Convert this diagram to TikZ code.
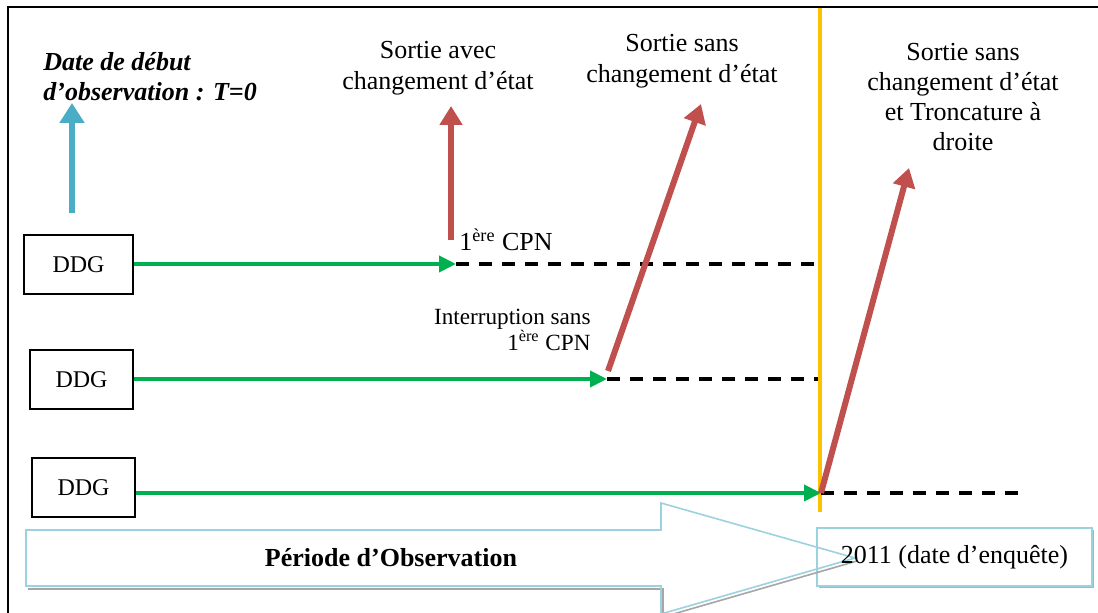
\documentclass[tikz,border=0pt]{standalone}
\usepackage{fontspec}
\setmainfont{Liberation Serif}
\usetikzlibrary{arrows.meta,positioning,calc,shadows}
\definecolor{flowgreen}{HTML}{00B050}
\definecolor{exitred}{HTML}{C0504D}
\definecolor{startblue}{HTML}{4BACC6}
\definecolor{edgeblue}{HTML}{9CD2E0}
\definecolor{limitgold}{HTML}{FFC000}
\begin{document}
\begin{tikzpicture}[x=.5pt,y=-.5pt,
  ddgbox/.style={draw,line width=1pt,minimum width=51.5pt,minimum height=29.5pt,inner sep=0,font=\fontsize{12}{14}\selectfont},
  lab/.style={align=center,inner sep=0,font=\fontsize{13}{15.5}\selectfont},
  flow/.style={-{Triangle[length=8.5pt,width=8pt]},flowgreen,line width=2pt},
  exit/.style={-{Triangle[length=9.5pt,width=11pt]},exitred,line width=3pt},
  after/.style={dashed,dash pattern=on 6.5pt off 5pt,line width=1.8pt}]
\useasboundingbox (0,0) rectangle (1098,613);\clip (0,0) rectangle (1098,613);
\fill[white] (0,0) rectangle (1098,613);
\draw[line width=1.2pt] (8,640)--(8,7)--(1120,7);
% three trajectories
\node[ddgbox,minimum width=54.5pt] (ddg1) at (78.5,264.5){DDG};
\node[ddgbox] (ddg2) at (81.5,380){DDG};
\node[ddgbox] (ddg3) at (83.5,487.5){DDG};
\coordinate (e1) at (456,264);\coordinate (e2) at (607,379);\coordinate (e3) at (821,493);
\coordinate (r1) at (822,264);\coordinate (r2) at (818,379);\coordinate (r3) at (1022,493);
\draw[limitgold,line width=1.6pt] (820,8)--(820,512);
\draw[after] (e1)--(r1);\draw[after] (e2)--(r2);\draw[after] (e3)--(r3);
\draw[flow] (ddg1.east|-e1)--(e1);\draw[flow] (ddg2.east|-e2)--(e2);\draw[flow] (ddg3.east|-e3)--(e3);
% exits
\coordinate (t0) at (72,103);\coordinate (t1) at (451,106);\coordinate (t2) at (701,104);\coordinate (t3) at (909,168);
\draw[-{Triangle[length=10pt,width=12pt]},startblue,line width=3pt] (72,213)--(t0);
\draw[exit] (451,240)--(t1);\draw[exit] (608,371)--(t2);\draw[exit] (e3)--(t3);
\node[lab,anchor=west,align=left,font=\fontsize{13}{15}\selectfont\bfseries\itshape] (start) at (43,77){Date de début\\d’observation : T=0};
\node[lab] (exit1) at (438,68){Sortie avec\\changement d’état};
\node[lab] (exit2) at (682,61){Sortie sans\\changement d’état};
\node[lab,font=\fontsize{13}{15}\selectfont] (exit3) at (963,97){Sortie sans\\changement d’état\\et Troncature à\\droite};
\node[lab,anchor=west] (cpn) at (459,240){1\textsuperscript{ère} CPN};
\node[lab,anchor=east,align=right,font=\fontsize{11.6}{13}\selectfont] (interr) at (591,330){Interruption sans\\1\textsuperscript{ère} CPN};
% observation period
\node[draw=edgeblue,line width=.8pt,fill=white,minimum width=137.5pt,minimum height=29pt,
  drop shadow={shadow xshift=1pt,shadow yshift=-1pt,fill=gray!60,opacity=1}] (survey) at (954.5,557){};
\draw[gray!70,line width=.8pt,shift={(2,3)}] (26,586)--(661,586)--(661,614)--(855,558);
\draw[edgeblue,line width=.8pt] (26,530)--(661,530)--(661,503)--(855,558)--(661,614)--(661,586)--(26,586)--cycle;
\node[lab,font=\fontsize{13}{15}\selectfont\bfseries] (period) at (391,558){Période d’Observation};
\node[lab] at (survey){2011 (date d’enquête)};
\end{tikzpicture}
\end{document}
